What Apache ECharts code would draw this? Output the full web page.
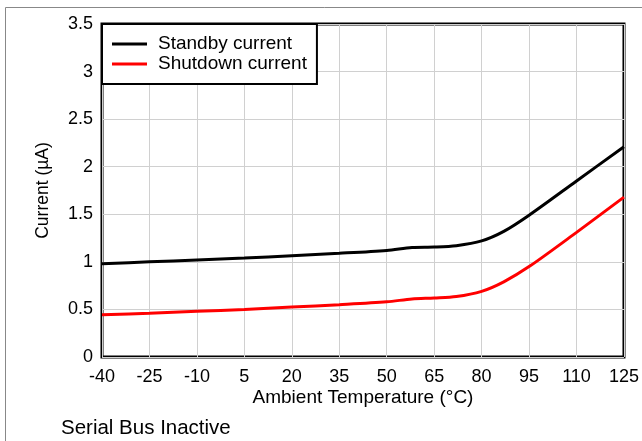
<!DOCTYPE html>
<html><head><meta charset="utf-8">
<script src="https://cdn.jsdelivr.net/npm/echarts@6/dist/echarts.min.js"></script>
<style>html,body{margin:0;padding:0;background:#fff}#c{width:642px;height:441px}</style>
</head><body><div id="c"></div>
<script>
const temps = [-40, -25, -10, 5, 20, 35, 50, 58, 65, 72, 80, 87, 95, 110, 125];
const standby = [0.98, 1.0, 1.02, 1.04, 1.065, 1.09, 1.12, 1.15, 1.155, 1.17, 1.22, 1.32, 1.49, 1.85, 2.21];
const shutdown = [0.445, 0.46, 0.48, 0.50, 0.525, 0.55, 0.58, 0.61, 0.62, 0.635, 0.69, 0.79, 0.95, 1.31, 1.68];
const seriesNames = ['Standby current', 'Shutdown current'];
const font = 'Liberation Sans, Arial, sans-serif';
const chart = echarts.init(document.getElementById('c'), null, {renderer: 'canvas'});
chart.setOption({
  animation: false,
  backgroundColor: '#fff',
  grid: {left: 102, right: 18, top: 24, bottom: 84, show: true, borderColor: '#000', borderWidth: 3, containLabel: false},
  graphic: [
    {type: 'rect', shape: {x: 5.5, y: 7.5, width: 650, height: 450}, style: {fill: 'none', stroke: '#888', lineWidth: 1}, z: -10},
    {type: 'text', left: 61, top: 418, style: {text: 'Serial Bus Inactive', fontSize: 20.5, fontFamily: font, fill: '#000'}}
  ],
  legend: {
    orient: 'vertical', left: 102, top: 24, padding: [10, 10, 10, 10], itemGap: 0,
    backgroundColor: '#fff', borderColor: '#000', borderWidth: 2,
    itemWidth: 35, itemHeight: 20, icon: 'path://M0,8.5 L35,8.5 L35,11.5 L0,11.5 Z',
    textStyle: {fontSize: 19, lineHeight: 20, fontFamily: font, color: '#000', padding: [0, 0, 0, 6]},
    data: seriesNames
  },
  xAxis: {
    type: 'value', min: -40, max: 125, interval: 15,
    name: 'Ambient Temperature (°C)', nameLocation: 'middle', nameGap: 31, nameMoveOverlap: false,
    nameTextStyle: {fontSize: 19, fontFamily: font, color: '#000'},
    axisLine: {show: false}, axisTick: {show: false},
    axisLabel: {fontSize: 18, fontFamily: font, color: '#000', margin: 11},
    splitLine: {show: true, lineStyle: {color: '#d0d0d0', width: 1}}
  },
  yAxis: {
    type: 'value', min: 0, max: 3.5, interval: 0.5,
    name: 'Current (µA)', nameLocation: 'middle', nameGap: 50, nameMoveOverlap: false,
    nameTextStyle: {fontSize: 17.5, fontFamily: font, color: '#000'},
    axisLine: {show: false}, axisTick: {show: false},
    axisLabel: {fontSize: 18, fontFamily: font, color: '#000', margin: 9},
    splitLine: {show: true, lineStyle: {color: '#d0d0d0', width: 1}}
  },
  series: [
    {name: seriesNames[0], type: 'line', data: temps.map((t, i) => [t, standby[i]]), smooth: 0.3, showSymbol: false, lineStyle: {color: '#000', width: 3}, itemStyle: {color: '#000'}},
    {name: seriesNames[1], type: 'line', data: temps.map((t, i) => [t, shutdown[i]]), smooth: 0.3, showSymbol: false, lineStyle: {color: '#ff0000', width: 3}, itemStyle: {color: '#ff0000'}}
  ]
});
</script></body></html>
